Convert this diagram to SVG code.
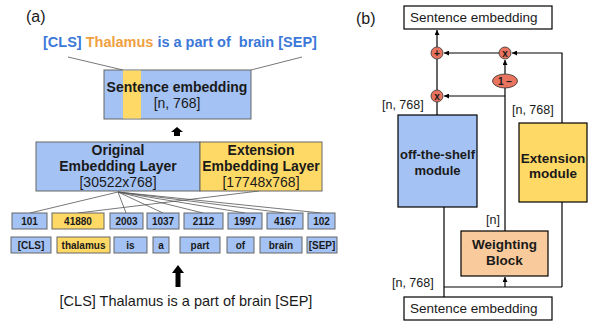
<svg xmlns="http://www.w3.org/2000/svg" width="589" height="322" viewBox="0 0 589 322">
<defs>
<style>
text{font-family:"Liberation Sans",Arial,sans-serif;fill:#1a1a1a}
.b{font-weight:bold}
.c{text-anchor:middle}
.blue{fill:#a4c2f4}
.yel{fill:#ffd966}
.gb{stroke:#666;stroke-width:1}
.tk{font-size:10px;font-weight:bold;text-anchor:middle}
.ln{stroke:#555;stroke-width:0.8;fill:none}
.bl{stroke:#000;stroke-width:1.2;fill:none}
.op{fill:#e8735f;stroke:#333;stroke-width:0.8}
.opt{font-size:10px;font-weight:bold;text-anchor:middle}
</style>
<marker id="ah" viewBox="0 0 10 10" refX="10" refY="5" markerWidth="5" markerHeight="5" orient="auto-start-reverse" markerUnits="userSpaceOnUse">
<path d="M0,0 L10,5 L0,10 z" fill="#000"/>
</marker>
</defs>

<!-- Panel (a) -->
<text x="26" y="22" font-size="16">(a)</text>
<text x="43" y="47" font-size="14.5" class="b" xml:space="preserve"><tspan fill="#3c78d8">[CLS] </tspan><tspan fill="#f0a040">Thalamus</tspan><tspan fill="#3c78d8"> is a part of  brain [SEP]</tspan></text>

<g id="connectors-a">
<line class="ln" x1="68" y1="57" x2="123" y2="70"/>
<line class="ln" x1="302" y1="57" x2="251" y2="70"/>
<line class="ln" x1="118" y1="192" x2="30" y2="213"/>
<line class="ln" x1="259" y1="191" x2="78" y2="213"/>
<line class="ln" x1="118" y1="192" x2="126" y2="213"/>
<line class="ln" x1="118" y1="192" x2="163" y2="213"/>
<line class="ln" x1="118" y1="192" x2="203" y2="213"/>
<line class="ln" x1="118" y1="192" x2="245" y2="213"/>
<line class="ln" x1="118" y1="192" x2="285" y2="213"/>
<line class="ln" x1="118" y1="192" x2="321" y2="213"/>
<path d="M177,127 L183,132 L180,132 L180,136 L174,136 L174,132 L171,132 z" fill="#000"/>
<path d="M178,265 L184,273 L180.5,273 L180.5,287 L175.5,287 L175.5,273 L172,273 z" fill="#000"/>
</g>

<g id="sentence-embedding-a">
<rect x="104" y="70" width="147" height="49" class="blue gb"/>
<rect x="123" y="70.5" width="18" height="48" class="yel"/>
<text x="177" y="92" font-size="14" class="b c">Sentence embedding</text>
<text x="177" y="108" font-size="14" class="c">[n, 768]</text>
</g>

<g id="original-embedding">
<rect x="36" y="142" width="164" height="49" class="blue gb"/>
<text x="118" y="155" font-size="14" class="b c">Original</text>
<text x="118" y="171" font-size="14" class="b c">Embedding Layer</text>
<text x="118" y="187" font-size="14" class="c">[30522x768]</text>
</g>
<g id="extension-embedding">
<rect x="200" y="142" width="122" height="49" class="yel gb"/>
<text x="261" y="155" font-size="14" class="b c">Extension</text>
<text x="261" y="171" font-size="14" class="b c">Embedding Layer</text>
<text x="261" y="187" font-size="14" class="c">[17748x768]</text>
</g>

<g id="ids">
<rect x="12" y="213" width="35" height="16" class="blue gb"/><text x="29.5" y="225" class="tk">101</text>
<rect x="52" y="213" width="52" height="16" class="yel gb"/><text x="78" y="225" class="tk">41880</text>
<rect x="110" y="213" width="33" height="16" class="blue gb"/><text x="126.5" y="225" class="tk">2003</text>
<rect x="147" y="213" width="32" height="16" class="blue gb"/><text x="163" y="225" class="tk">1037</text>
<rect x="184" y="213" width="39" height="16" class="blue gb"/><text x="203.5" y="225" class="tk">2112</text>
<rect x="228" y="213" width="34" height="16" class="blue gb"/><text x="245" y="225" class="tk">1997</text>
<rect x="267" y="213" width="36" height="16" class="blue gb"/><text x="285" y="225" class="tk">4167</text>
<rect x="308" y="213" width="27" height="16" class="blue gb"/><text x="321.5" y="225" class="tk">102</text>
</g>
<g id="tokens">
<rect x="11" y="237" width="40" height="16" class="blue gb"/><text x="31" y="249" class="tk">[CLS]</text>
<rect x="57" y="237" width="53" height="16" class="yel gb"/><text x="83.5" y="249" class="tk">thalamus</text>
<rect x="114" y="237" width="33" height="16" class="blue gb"/><text x="130.5" y="249" class="tk">is</text>
<rect x="153" y="237" width="16" height="16" class="blue gb"/><text x="161" y="249" class="tk">a</text>
<rect x="180" y="237" width="40" height="16" class="blue gb"/><text x="200" y="249" class="tk">part</text>
<rect x="227" y="237" width="27" height="16" class="blue gb"/><text x="240.5" y="249" class="tk">of</text>
<rect x="260" y="237" width="42" height="16" class="blue gb"/><text x="281" y="249" class="tk">brain</text>
<rect x="307" y="237" width="30" height="16" class="blue gb"/><text x="322" y="249" class="tk">[SEP]</text>
</g>
<text x="186" y="306" font-size="14.5" class="c">[CLS] Thalamus is a part of brain [SEP]</text>

<!-- Panel (b) -->
<text x="356" y="24" font-size="16">(b)</text>

<g id="connectors-b">
<line class="bl" x1="437" y1="47" x2="437" y2="30" marker-end="url(#ah)"/>
<line class="bl" x1="499" y1="53" x2="444" y2="53" marker-end="url(#ah)"/>
<polyline class="bl" points="562,123 562,53 512,53" marker-end="url(#ah)"/>
<line class="bl" x1="505" y1="74" x2="505" y2="60" marker-end="url(#ah)"/>
<line class="bl" x1="505" y1="88" x2="505" y2="231"/>
<line class="bl" x1="505" y1="96" x2="444" y2="96" marker-end="url(#ah)"/>
<line class="bl" x1="437" y1="59" x2="437" y2="90"/>
<line class="bl" x1="437" y1="102" x2="437" y2="115"/>
<line class="bl" x1="444" y1="207" x2="444" y2="297"/>
<line class="bl" x1="562" y1="202" x2="562" y2="287"/>
<line class="bl" x1="444" y1="287" x2="562" y2="287"/>
<line class="bl" x1="505" y1="287" x2="505" y2="277" marker-end="url(#ah)"/>
</g>

<g id="sentence-embedding-out">
<rect x="404" y="6" width="148" height="23" fill="#fff" class="bl"/>
<text x="410" y="22" font-size="13.5">Sentence embedding</text>
</g>
<g id="op-plus">
<circle cx="437" cy="53" r="6" class="op"/>
<text x="437" y="56.5" class="opt">+</text>
</g>
<g id="op-times-top">
<circle cx="505" cy="53" r="6" class="op"/>
<text x="505" y="56.5" class="opt">x</text>
</g>
<g id="op-one-minus">
<ellipse cx="505" cy="81" rx="12.5" ry="7" class="op"/>
<text x="505" y="84.5" class="opt">1 −</text>
</g>
<g id="op-times-low">
<circle cx="437" cy="96" r="6" class="op"/>
<text x="437" y="99.5" class="opt">x</text>
</g>
<text x="382" y="109" font-size="12.5">[n, 768]</text>
<text x="512" y="114" font-size="12.5">[n, 768]</text>
<g id="off-the-shelf">
<rect x="398" y="115" width="79" height="92" class="bl" style="fill:#a4c2f4"/>
<text x="437.5" y="159" font-size="13" class="b c">off-the-shelf</text>
<text x="437.5" y="175" font-size="13" class="b c">module</text>
</g>
<g id="extension-module">
<rect x="519" y="123" width="68" height="79" class="bl" style="fill:#ffd966"/>
<text x="553" y="163" font-size="13.5" class="b c">Extension</text>
<text x="553" y="178" font-size="13.5" class="b c">module</text>
</g>
<text x="486" y="224" font-size="12.5">[n]</text>
<g id="weighting-block">
<rect x="461" y="231" width="87" height="45" class="bl" style="fill:#f9cb9c"/>
<text x="504.5" y="249" font-size="13.5" class="b c">Weighting</text>
<text x="504.5" y="265" font-size="13.5" class="b c">Block</text>
</g>
<text x="392" y="287" font-size="12.5">[n, 768]</text>
<g id="sentence-embedding-in">
<rect x="404" y="297" width="148" height="23" fill="#fff" class="bl"/>
<text x="410" y="313" font-size="13.5">Sentence embedding</text>
</g>
</svg>
